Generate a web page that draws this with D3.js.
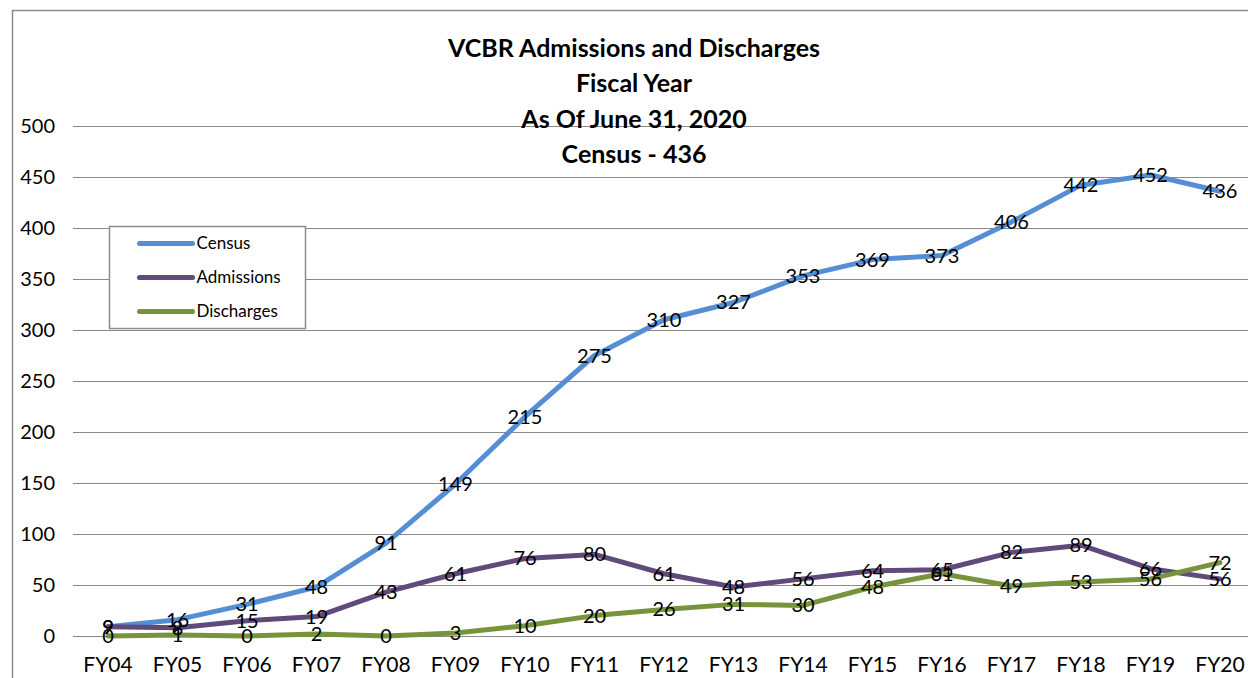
<!DOCTYPE html>
<html>
<head>
<meta charset="utf-8">
<script src="https://cdn.jsdelivr.net/npm/d3@7/dist/d3.min.js"></script>
<style>
  html, body { margin: 0; padding: 0; background: #fff; }
  svg { display: block; font-family: Lato, "Open Sans", sans-serif; }
</style>
</head>
<body>
<svg id="chart" width="1248" height="678"></svg>
<script>
// ─── DATA ─────────────────────────────────────────────────────────────────────
const years = ['FY04', 'FY05', 'FY06', 'FY07', 'FY08', 'FY09', 'FY10', 'FY11', 'FY12',
  'FY13', 'FY14', 'FY15', 'FY16', 'FY17', 'FY18', 'FY19', 'FY20'];
const census     = [9, 16, 31, 48, 91, 149, 215, 275, 310, 327, 353, 369, 373, 406, 442, 452, 436];
const admissions = [9, 8, 15, 19, 43, 61, 76, 80, 61, 48, 56, 64, 65, 82, 89, 66, 56];
const discharges = [0, 1, 0, 2, 0, 3, 10, 20, 26, 31, 30, 48, 61, 49, 53, 56, 72];
const yTicks = [0, 50, 100, 150, 200, 250, 300, 350, 400, 450, 500];
const titleLines = ['VCBR Admissions and Discharges', 'Fiscal Year', 'As Of June 31, 2020', 'Census - 436'];

const series = [
  { name: 'Census',     values: census,     color: '#558ed5' },
  { name: 'Admissions', values: admissions, color: '#604a7b' },
  { name: 'Discharges', values: discharges, color: '#77933c' },
];
// ──────────────────────────────────────────────────────────────────────────────

const svg = d3.select('#chart');

// outer chart frame (right/bottom fall outside the picture)
svg.append('rect')
  .attr('x', 12.5).attr('y', 10.5)
  .attr('width', 1260).attr('height', 700)
  .attr('fill', 'none').attr('stroke', '#8c8c8c').attr('stroke-width', 1.5);

const x = d3.scalePoint().domain(years).range([108, 1220]);
const y = d3.scaleLinear().domain([0, 500]).range([636, 126]);

// gridlines
svg.append('g')
  .selectAll('line')
  .data(yTicks)
  .join('line')
  .attr('x1', 73).attr('x2', 1248)
  .attr('y1', (d) => Math.round(y(d)) + 0.5)
  .attr('y2', (d) => Math.round(y(d)) + 0.5)
  .attr('stroke', '#8a8a8a').attr('stroke-width', 1);

// y tick labels
svg.append('g')
  .selectAll('text')
  .data(yTicks)
  .join('text')
  .attr('x', 55)
  .attr('y', (d) => y(d))
  .attr('dy', '0.35em')
  .attr('text-anchor', 'end')
  .attr('font-size', 20)
  .attr('fill', '#000')
  .text((d) => d);

// x tick labels
svg.append('g')
  .selectAll('text')
  .data(years)
  .join('text')
  .attr('x', (d) => x(d))
  .attr('y', 665)
  .attr('dy', '0.35em')
  .attr('text-anchor', 'middle')
  .attr('font-size', 21)
  .attr('fill', '#000')
  .text((d) => d);

// title
svg.append('g')
  .selectAll('text')
  .data(titleLines)
  .join('text')
  .attr('x', 634)
  .attr('y', (d, i) => 48 + i * 35.5)
  .attr('dy', '0.35em')
  .attr('text-anchor', 'middle')
  .attr('font-size', 25)
  .attr('font-weight', 'bold')
  .attr('fill', '#000')
  .text((d) => d);

// lines
const line = d3.line()
  .x((d, i) => x(years[i]))
  .y((d) => y(d));

svg.append('g')
  .selectAll('path')
  .data(series)
  .join('path')
  .attr('d', (s) => line(s.values))
  .attr('fill', 'none')
  .attr('stroke', (s) => s.color)
  .attr('stroke-width', 5)
  .attr('stroke-linejoin', 'round')
  .attr('stroke-linecap', 'round');

// data labels, centred on points
series.forEach((s) => {
  svg.append('g')
    .selectAll('text')
    .data(s.values)
    .join('text')
    .attr('x', (d, i) => x(years[i]))
    .attr('y', (d) => y(d))
    .attr('dy', '0.35em')
    .attr('text-anchor', 'middle')
    .attr('font-size', 20)
    .attr('fill', '#000')
    .text((d) => d);
});

// legend
const legend = svg.append('g').attr('transform', 'translate(109.5,226.5)');
legend.append('rect')
  .attr('width', 196).attr('height', 102)
  .attr('fill', '#fff').attr('stroke', '#8c8c8c').attr('stroke-width', 1.5);

const item = legend.selectAll('g')
  .data(series)
  .join('g')
  .attr('transform', (d, i) => `translate(0,${17 + i * 34})`);

item.append('line')
  .attr('x1', 30).attr('x2', 83)
  .attr('stroke', (d) => d.color)
  .attr('stroke-width', 5)
  .attr('stroke-linecap', 'round');

item.append('text')
  .attr('x', 87)
  .attr('dy', '0.35em')
  .attr('font-size', 17)
  .attr('fill', '#000')
  .text((d) => d.name);
</script>
</body>
</html>
